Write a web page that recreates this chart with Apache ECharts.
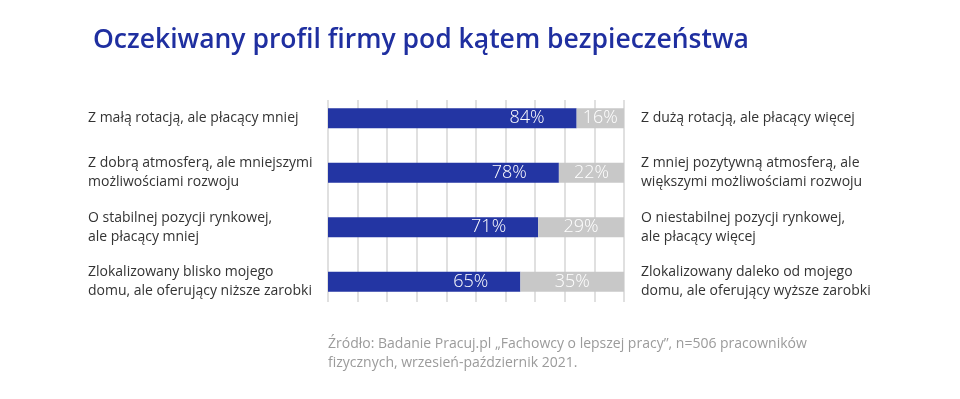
<!DOCTYPE html>
<html>
<head>
<meta charset="utf-8">
<script src="https://cdn.jsdelivr.net/npm/echarts@6/dist/echarts.min.js"></script>
<style>
  html, body { margin: 0; padding: 0; background: #fff; }
  #chart { width: 960px; height: 399px; }
</style>
</head>
<body>
<div id="chart"></div>
<script>
const leftLabels = [
  'Z małą rotacją, ale płacący mniej',
  'Z dobrą atmosferą, ale mniejszymi\nmożliwościami rozwoju',
  'O stabilnej pozycji rynkowej,\nale płacący mniej',
  'Zlokalizowany blisko mojego\ndomu, ale oferujący niższe zarobki'
];
const rightLabels = [
  'Z dużą rotacją, ale płacący więcej',
  'Z mniej pozytywną atmosferą, ale\nwiększymi możliwościami rozwoju',
  'O niestabilnej pozycji rynkowej,\nale płacący więcej',
  'Zlokalizowany daleko od mojego\ndomu, ale oferujący wyższe zarobki'
];
const leftValues = [84, 78, 71, 65];
const rightValues = [16, 22, 29, 35];

const chart = echarts.init(document.getElementById('chart'));
const font = '"Open Sans", "Noto Sans", sans-serif';

const option = {
  animation: false,
  textStyle: { fontFamily: font },
  title: [
    {
      text: 'Oczekiwany profil firmy pod kątem bezpieczeństwa',
      left: 88,
      top: 22,
      textStyle: { color: '#1f2fa0', fontSize: 26.5, fontWeight: 600, fontFamily: font }
    },
    {
      text: 'Źródło: Badanie Pracuj.pl „Fachowcy o lepszej pracy”, n=506 pracowników\nfizycznych, wrzesień-październik 2021.',
      left: 323,
      top: 330,
      textStyle: { color: '#9b9b9b', fontSize: 14, lineHeight: 19, fontWeight: 'normal', fontFamily: font }
    }
  ],
  grid: [
    { left: 328, width: 296, top: 91, height: 218 },
    { left: 328, width: 296, top: 100, height: 202 }
  ],
  xAxis: [
    { type: 'value', gridIndex: 0, min: 0, max: 100, show: false },
    {
      type: 'value', gridIndex: 1, min: 0, max: 100, interval: 10,
      axisLine: { show: false }, axisTick: { show: false }, axisLabel: { show: false },
      splitLine: { show: true, lineStyle: { color: '#d6d6d6', width: 1.5 } }
    }
  ],
  yAxis: [
    {
      type: 'category', gridIndex: 0, inverse: true, data: leftLabels,
      axisLine: { show: false }, axisTick: { show: false },
      axisLabel: { align: 'left', margin: 240, color: '#333', fontSize: 14, lineHeight: 19, fontFamily: font }
    },
    {
      type: 'category', gridIndex: 0, inverse: true, position: 'right', data: rightLabels,
      axisLine: { show: false }, axisTick: { show: false },
      axisLabel: { align: 'left', margin: 17, color: '#333', fontSize: 14, lineHeight: 19, fontFamily: font }
    },
    { type: 'value', gridIndex: 1, show: false, min: 0, max: 1 }
  ],
  series: [
    {
      type: 'bar', stack: 'a', xAxisIndex: 0, yAxisIndex: 0,
      data: leftValues, barWidth: 20,
      itemStyle: { color: '#2335a3' },
      label: {
        show: true, position: 'insideRight', distance: 32,
        color: '#fff', fontSize: 18, fontWeight: 300, fontFamily: font,
        formatter: '{c}%'
      }
    },
    {
      type: 'bar', stack: 'a', xAxisIndex: 0, yAxisIndex: 0,
      data: rightValues, barWidth: 20,
      itemStyle: { color: '#c8c8c8' },
      label: {
        show: true, position: 'inside',
        color: '#fff', fontSize: 18, fontWeight: 300, fontFamily: font,
        formatter: '{c}%'
      }
    }
  ]
};
chart.setOption(option);
</script>
</body>
</html>
